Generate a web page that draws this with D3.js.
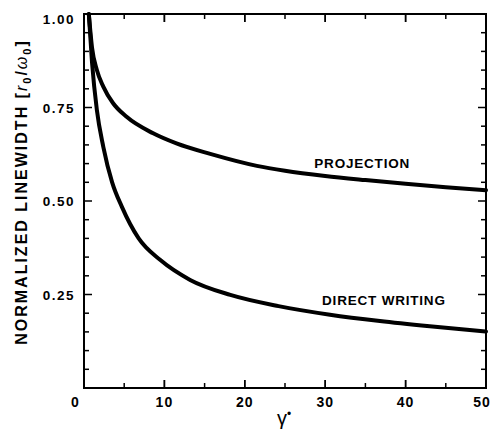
<!DOCTYPE html>
<html>
<head>
<meta charset="utf-8">
<script src="https://cdn.jsdelivr.net/npm/d3@7"></script>
<style>
  body { margin: 0; background: #fff; }
  svg { display: block; }
  text { font-family: "Liberation Sans", Arial, sans-serif; fill: #000; }
</style>
</head>
<body>
<div id="chart"></div>
<script>
const width = 492;
const height = 431;
const margin = { top: 14, right: 6, bottom: 43, left: 84 };

const projX = [0.6, 1.0, 1.6, 2.4, 3.6, 5.3, 8.6, 11.5, 15.7, 21.5, 25, 30, 35, 40, 45, 50];
const projY = [1.0, 0.91, 0.85, 0.806, 0.762, 0.725, 0.681, 0.654, 0.626, 0.594, 0.581, 0.567, 0.556, 0.546, 0.537, 0.529];
const directX = [0.6, 1.0, 1.6, 2.4, 3.5, 4.7, 6.8, 9.5, 13.2, 18.2, 24.2, 30.6, 36.8, 43, 50];
const directY = [1.0, 0.87, 0.743, 0.645, 0.55, 0.485, 0.40, 0.342, 0.289, 0.249, 0.219, 0.196, 0.179, 0.165, 0.151];

const xTickLabels = [10, 20, 30, 40, 50];
const yTickLabels = [0.25, 0.5, 0.75, 1.0];
const xMinorTicks = d3.range(5, 50, 5);
const yMinorTicks = d3.range(0.05, 1.0, 0.05);

const seriesLabels = [
  { text: "PROJECTION", x: 34.6, y: 0.602 },
  { text: "DIRECT WRITING", x: 37.3, y: 0.234 }
];

const x = d3.scaleLinear().domain([0, 50]).range([margin.left, width - margin.right]);
const y = d3.scaleLinear().domain([0, 1]).range([height - margin.bottom, margin.top]);

const svg = d3.select("#chart")
  .append("svg")
  .attr("width", width)
  .attr("height", height);

// ticks, all pointing into the frame
const tickG = svg.append("g").attr("stroke", "#000").attr("stroke-width", 1.5);
const isMajorX = v => Math.abs(v % 10) < 1e-6;
const isMajorY = v => Math.abs((v * 100) % 25) < 1e-6;

xMinorTicks.concat(xTickLabels).forEach(v => {
  const len = isMajorX(v) ? 8 : 5;
  tickG.append("line")
    .attr("x1", x(v)).attr("x2", x(v))
    .attr("y1", y(0)).attr("y2", y(0) - len);
  tickG.append("line")
    .attr("x1", x(v)).attr("x2", x(v))
    .attr("y1", y(1)).attr("y2", y(1) + len);
});

yMinorTicks.forEach(v => {
  const len = isMajorY(v) ? 8 : 5;
  tickG.append("line")
    .attr("x1", x(0)).attr("x2", x(0) + len)
    .attr("y1", y(v)).attr("y2", y(v));
  tickG.append("line")
    .attr("x1", x(50)).attr("x2", x(50) - len)
    .attr("y1", y(v)).attr("y2", y(v));
});

// frame
svg.append("rect")
  .attr("x", x(0))
  .attr("y", y(1))
  .attr("width", x(50) - x(0))
  .attr("height", y(0) - y(1))
  .attr("fill", "none")
  .attr("stroke", "#000")
  .attr("stroke-width", 2);

// tick labels
svg.append("g")
  .selectAll("text")
  .data(xTickLabels)
  .join("text")
  .attr("x", d => Math.min(x(d), width - 10))
  .attr("y", y(0) + 19)
  .attr("text-anchor", "middle")
  .attr("font-size", 14)
  .attr("font-weight", "bold")
  .attr("letter-spacing", 1)
  .text(d => d);

svg.append("text")
  .attr("x", x(0) - 9)
  .attr("y", y(0) + 19)
  .attr("text-anchor", "middle")
  .attr("font-size", 14)
  .attr("font-weight", "bold")
  .text("0");

svg.append("g")
  .selectAll("text")
  .data(yTickLabels)
  .join("text")
  .attr("x", x(0) - 9)
  .attr("y", d => y(d) + (d === 1 ? 10 : 5))
  .attr("text-anchor", "end")
  .attr("font-size", 13.5)
  .attr("font-weight", "bold")
  .attr("letter-spacing", 1.5)
  .text(d => d.toFixed(2));

// curves
const curve = d3.line()
  .x(d => x(d[0]))
  .y(d => y(d[1]))
  .curve(d3.curveMonotoneX);

[[projX, projY], [directX, directY]].forEach(([xs, ys]) => {
  svg.append("path")
    .datum(d3.zip(xs, ys))
    .attr("fill", "none")
    .attr("stroke", "#000")
    .attr("stroke-width", 4)
    .attr("stroke-linecap", "round")
    .attr("d", curve);
});

svg.append("g")
  .selectAll("text")
  .data(seriesLabels)
  .join("text")
  .attr("x", d => x(d.x))
  .attr("y", d => y(d.y) + 5)
  .attr("text-anchor", "middle")
  .attr("font-size", 13.5)
  .attr("font-weight", "bold")
  .attr("letter-spacing", 0.8)
  .text(d => d.text);

// axis titles
svg.append("text")
  .attr("x", x(25) - 8)
  .attr("y", height - 6)
  .attr("font-family", "'Liberation Serif', serif")
  .attr("font-size", 20)
  .call(t => {
    t.append("tspan").text("γ");
    t.append("tspan").attr("font-size", 12).attr("dy", -7).text("•");
  });

const yTitle = svg.append("text")
  .attr("transform", `translate(27,${(y(0) + y(1)) / 2 - 9}) rotate(-90)`)
  .attr("text-anchor", "middle")
  .attr("font-size", 16)
  .attr("font-weight", "bold")
  .attr("letter-spacing", 2);
yTitle.append("tspan").text("NORMALIZED LINEWIDTH ");
yTitle.append("tspan").text("[");
yTitle.append("tspan").attr("font-weight", "normal").attr("font-style", "italic").text("r");
yTitle.append("tspan").attr("font-size", 11).attr("dy", 4).text("0");
yTitle.append("tspan").attr("dy", -4).text("/");
yTitle.append("tspan").attr("font-weight", "normal").attr("font-style", "italic").text("ω");
yTitle.append("tspan").attr("font-size", 11).attr("dy", 4).text("0");
yTitle.append("tspan").attr("dy", -4).text("]");
</script>
</body>
</html>
